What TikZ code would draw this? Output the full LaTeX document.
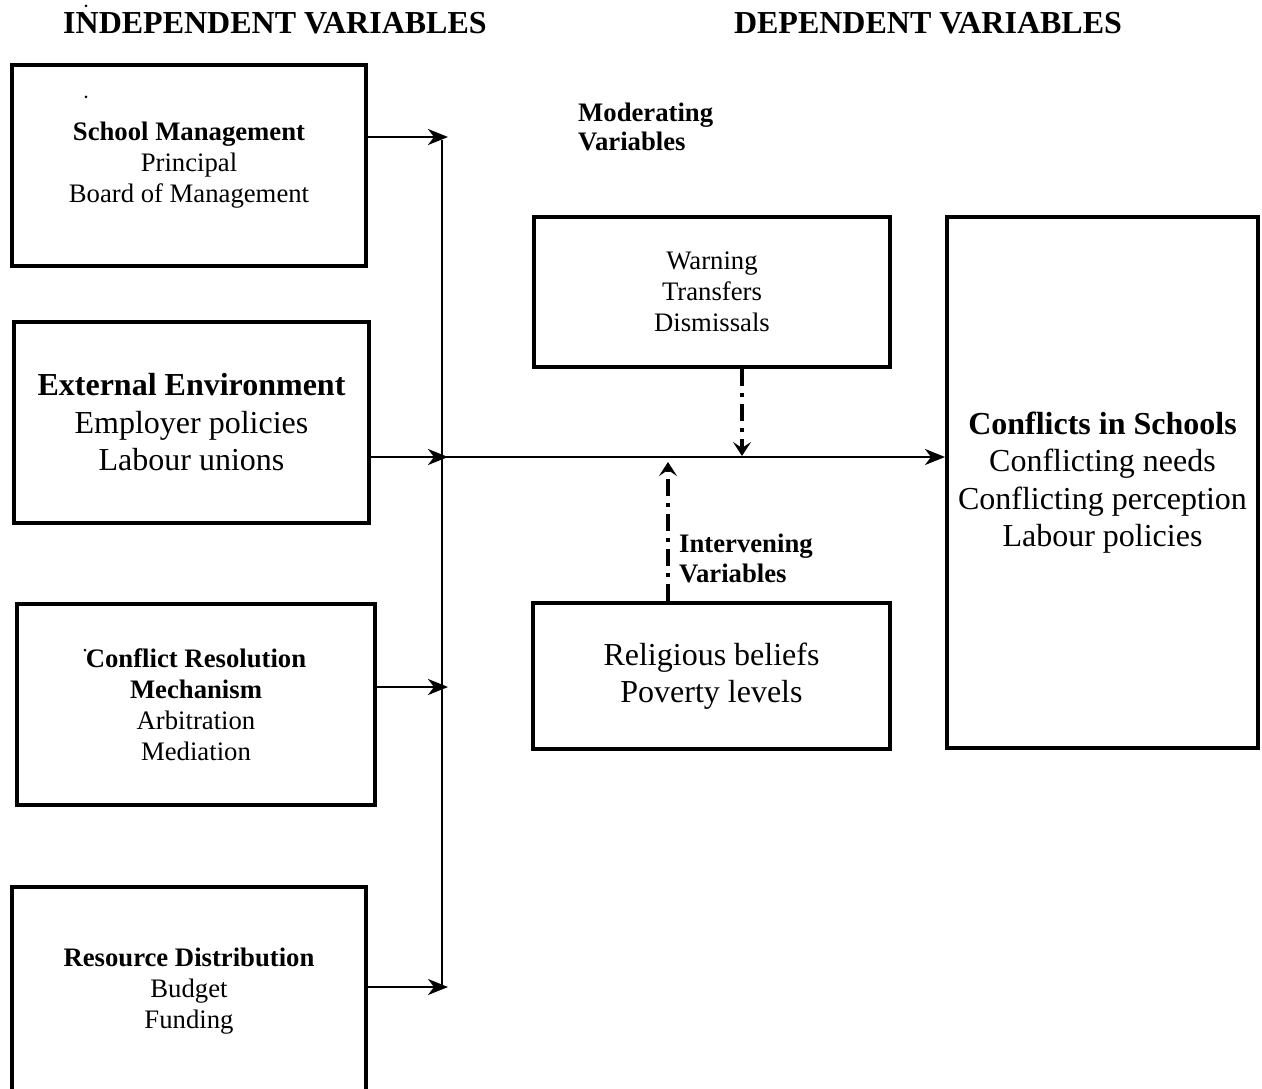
\documentclass[tikz,border=0pt]{standalone}
\usepackage{fontspec}
\setmainfont{Liberation Serif}
\usetikzlibrary{arrows.meta}
\begin{document}
\begin{tikzpicture}[x=1pt,y=-1pt,
  box/.style={draw, line width=4pt, inner sep=0pt, align=center},
  sm/.style={font=\fontsize{26.7}{31}\selectfont},
  lg/.style={font=\fontsize{32}{37.5}\selectfont},
  ttl/.style={font=\fontsize{32}{37}\selectfont\bfseries, inner sep=0pt},
  lblb/.style={font=\fontsize{26.7}{31}\selectfont\bfseries, inner sep=0pt, anchor=base west},
  arr/.style={line width=2.2pt, -{Stealth[length=20pt,width=16pt,inset=6pt]}},
  dd/.style={line width=4pt, dash pattern=on 17pt off 7pt on 4pt off 7pt, -{Stealth[length=14pt,width=18pt,inset=6pt]}}
]
\useasboundingbox (0,0) rectangle (1262,1089);
\clip (0,0) rectangle (1262,1089);

% titles
\node[ttl] (t1) at (275,23) {INDEPENDENT VARIABLES};
\node[ttl] (t2) at (928,23) {DEPENDENT VARIABLES};

% independent boxes
\node[box, sm, minimum width=354pt, minimum height=201pt] (b1) at (189,165.5)
  {\textbf{School Management}\\Principal\\Board of Management};
\node[box, lg, minimum width=355pt, minimum height=201pt] (b2) at (191.5,422.5)
  {\textbf{External Environment}\\Employer policies\\Labour unions};
\node[box, sm, minimum width=358pt, minimum height=201pt] (b3) at (196,704.5)
  {\textbf{Conflict Resolution}\\\textbf{Mechanism}\\Arbitration\\Mediation};
\node[box, sm, minimum width=354pt, minimum height=208pt] (b4) at (189,991)
  {\textbf{Resource Distribution}\\Budget\\Funding};

% moderating / intervening / dependent
\node[box, sm, minimum width=356pt, minimum height=150pt] (mod) at (712,292)
  {Warning\\Transfers\\Dismissals};
\node[box, lg, minimum width=357pt, minimum height=146pt] (int) at (711.5,676)
  {Religious beliefs\\Poverty levels};
\node[box, lg, minimum width=311pt, minimum height=531pt] (conf) at (1102.5,482.5)
  {\textbf{Conflicts in Schools}\\Conflicting needs\\Conflicting perception\\Labour policies};

% labels
\node[lblb] (ml1) at (578,122) {Moderating};
\node[lblb] (ml2) at (578,151) {Variables};
\node[lblb] (il1) at (679,552) {Intervening};
\node[lblb] (il2) at (679,582) {Variables};

% stray dots
\fill (86,6) circle (1.5pt);
\fill (86,97) circle (1.5pt);
\fill (85,650) circle (1.5pt);

% connectors
\coordinate (j1) at (448,137);
\coordinate (j2) at (448,457);
\coordinate (j3) at (448,687);
\coordinate (j4) at (448,987);
\coordinate (vt) at (442,140);
\coordinate (vb) at (442,988);
\coordinate (m) at (442,457);
\draw[line width=2.2pt] (vt) -- (vb);
\draw[arr] (b1.east |- j1) -- (j1);
\draw[arr] (b2.east |- j2) -- (j2);
\draw[arr] (b3.east |- j3) -- (j3);
\draw[arr] (b4.east |- j4) -- (j4);
\draw[arr] (m) -- (conf.west |- m);

\coordinate (md) at (742,456);
\coordinate (iu) at (668,462);
\draw[dd] (mod.south -| md) -- (md);
\draw[dd] (int.north -| iu) -- (iu);
\end{tikzpicture}
\end{document}
